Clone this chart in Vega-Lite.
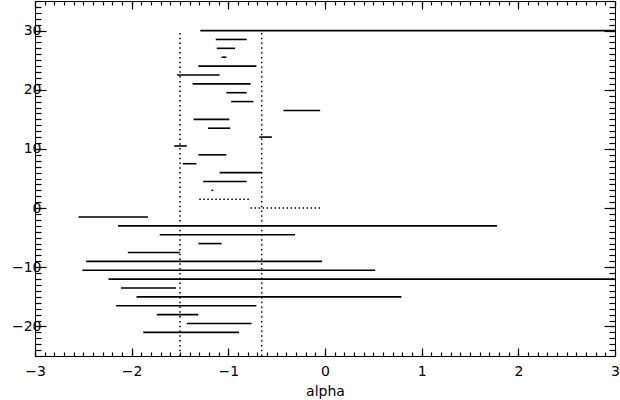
{
  "$schema": "https://vega.github.io/schema/vega-lite/v6.json",
  "width": 580,
  "height": 355,
  "autosize": {"type": "none"},
  "padding": {"left": 35, "top": 1, "right": 5, "bottom": 44},
  "background": "white",
  "config": {
    "view": {"stroke": null},
    "axis": {
      "grid": false,
      "domainColor": "#000",
      "domainWidth": 1,
      "tickColor": "#000",
      "tickWidth": 1.2,
      "labelColor": "#000",
      "labelFont": "DejaVu Sans",
      "labelFontSize": 14,
      "labelFlush": false,
      "labelOverlap": false,
      "titleFont": "DejaVu Sans",
      "titleFontSize": 14,
      "titleFontWeight": "normal",
      "titleColor": "#000"
    }
  },
  "data": {
    "values": [
      {"x1": -1.29, "x2": 3, "y1": 30, "y2": 30, "kind": "solid"},
      {"x1": -1.13, "x2": -0.81, "y1": 28.5, "y2": 28.5, "kind": "solid"},
      {"x1": -1.12, "x2": -0.93, "y1": 27, "y2": 27, "kind": "solid"},
      {"x1": -1.07, "x2": -1.02, "y1": 25.5, "y2": 25.5, "kind": "solid"},
      {"x1": -1.31, "x2": -0.71, "y1": 24, "y2": 24, "kind": "solid"},
      {"x1": -1.53, "x2": -1.09, "y1": 22.5, "y2": 22.5, "kind": "solid"},
      {"x1": -1.37, "x2": -0.77, "y1": 21, "y2": 21, "kind": "solid"},
      {"x1": -1.02, "x2": -0.81, "y1": 19.5, "y2": 19.5, "kind": "solid"},
      {"x1": -0.97, "x2": -0.74, "y1": 18, "y2": 18, "kind": "solid"},
      {"x1": -0.43, "x2": -0.05, "y1": 16.5, "y2": 16.5, "kind": "solid"},
      {"x1": -1.36, "x2": -0.99, "y1": 15, "y2": 15, "kind": "solid"},
      {"x1": -1.21, "x2": -0.98, "y1": 13.5, "y2": 13.5, "kind": "solid"},
      {"x1": -0.68, "x2": -0.55, "y1": 12, "y2": 12, "kind": "solid"},
      {"x1": -1.56, "x2": -1.43, "y1": 10.5, "y2": 10.5, "kind": "solid"},
      {"x1": -1.31, "x2": -1.02, "y1": 9, "y2": 9, "kind": "solid"},
      {"x1": -1.47, "x2": -1.33, "y1": 7.5, "y2": 7.5, "kind": "solid"},
      {"x1": -1.09, "x2": -0.655, "y1": 6, "y2": 6, "kind": "solid"},
      {"x1": -1.26, "x2": -0.81, "y1": 4.5, "y2": 4.5, "kind": "solid"},
      {"x1": -1.175, "x2": -1.155, "y1": 3, "y2": 3, "kind": "solid"},
      {"x1": -1.3, "x2": -0.77, "y1": 1.5, "y2": 1.5, "kind": "dotted"},
      {"x1": -0.77, "x2": -0.05, "y1": 0, "y2": 0, "kind": "dotted"},
      {"x1": -2.55, "x2": -1.83, "y1": -1.5, "y2": -1.5, "kind": "solid"},
      {"x1": -2.14, "x2": 1.78, "y1": -3, "y2": -3, "kind": "solid"},
      {"x1": -1.71, "x2": -0.31, "y1": -4.5, "y2": -4.5, "kind": "solid"},
      {"x1": -1.31, "x2": -1.07, "y1": -6, "y2": -6, "kind": "solid"},
      {"x1": -2.04, "x2": -1.5, "y1": -7.5, "y2": -7.5, "kind": "solid"},
      {"x1": -2.47, "x2": -0.03, "y1": -9, "y2": -9, "kind": "solid"},
      {"x1": -2.51, "x2": 0.52, "y1": -10.5, "y2": -10.5, "kind": "solid"},
      {"x1": -2.24, "x2": 3, "y1": -12, "y2": -12, "kind": "solid"},
      {"x1": -2.11, "x2": -1.54, "y1": -13.5, "y2": -13.5, "kind": "solid"},
      {"x1": -1.95, "x2": 0.79, "y1": -15, "y2": -15, "kind": "solid"},
      {"x1": -2.16, "x2": -0.71, "y1": -16.5, "y2": -16.5, "kind": "solid"},
      {"x1": -1.74, "x2": -1.31, "y1": -18, "y2": -18, "kind": "solid"},
      {"x1": -1.43, "x2": -0.76, "y1": -19.5, "y2": -19.5, "kind": "solid"},
      {"x1": -1.88, "x2": -0.89, "y1": -21, "y2": -21, "kind": "solid"},
      {"x1": -1.5, "x2": -1.5, "y1": -25, "y2": 30, "kind": "vertical"},
      {"x1": -0.655, "x2": -0.655, "y1": -25, "y2": 30, "kind": "vertical"}
    ]
  },
  "resolve": {"axis": {"x": "independent", "y": "independent"}},
  "layer": [
    {
      "transform": [{"filter": "datum.kind == 'solid' && datum.y1 < 0"}],
      "mark": {"type": "rule", "color": "#000", "strokeWidth": 1.6},
      "encoding": {
        "x": {"field": "x1", "type": "quantitative",
              "scale": {"domain": [-3, 3], "nice": false, "zero": false},
              "axis": {"orient": "bottom", "tickCount": 6, "tickSize": -8, "labelPadding": 16, "title": "alpha", "titlePadding": 6, "format": "d"}},
        "x2": {"field": "x2"},
        "y": {"field": "y1", "type": "quantitative",
              "scale": {"domain": [-25, 35], "nice": false, "zero": false},
              "axis": {"orient": "left", "tickCount": 6, "tickSize": -11, "labelPadding": 5, "title": null, "format": "d"}}
      }
    },
    {
      "transform": [{"filter": "datum.kind == 'solid' && datum.y1 >= 0"}],
      "mark": {"type": "rule", "color": "#000", "strokeWidth": 1.6},
      "encoding": {
        "x": {"field": "x1", "type": "quantitative",
              "axis": {"orient": "bottom", "tickCount": 60, "tickSize": -4, "labels": false, "title": null}},
        "x2": {"field": "x2"},
        "y": {"field": "y1", "type": "quantitative",
              "axis": {"orient": "left", "tickCount": 60, "tickSize": -6, "labels": false, "title": null}}
      }
    },
    {
      "transform": [{"filter": "datum.kind == 'dotted'"}],
      "mark": {"type": "rule", "color": "#000", "strokeWidth": 1.5, "strokeDash": [1.5, 2.5]},
      "encoding": {
        "x": {"field": "x1", "type": "quantitative",
              "axis": {"orient": "top", "tickCount": 6, "tickSize": -8, "labels": false, "title": null}},
        "x2": {"field": "x2"},
        "y": {"field": "y1", "type": "quantitative",
              "axis": {"orient": "right", "tickCount": 6, "tickSize": -11, "labels": false, "title": null}}
      }
    },
    {
      "transform": [{"filter": "datum.kind == 'vertical'"}],
      "mark": {"type": "rule", "color": "#000", "strokeWidth": 1.5, "strokeDash": [1.5, 3.3]},
      "encoding": {
        "x": {"field": "x1", "type": "quantitative",
              "axis": {"orient": "top", "tickCount": 60, "tickSize": -4, "labels": false, "title": null}},
        "y": {"field": "y1", "type": "quantitative",
              "axis": {"orient": "right", "tickCount": 60, "tickSize": -6, "labels": false, "title": null}},
        "y2": {"field": "y2"}
      }
    }
  ]
}
